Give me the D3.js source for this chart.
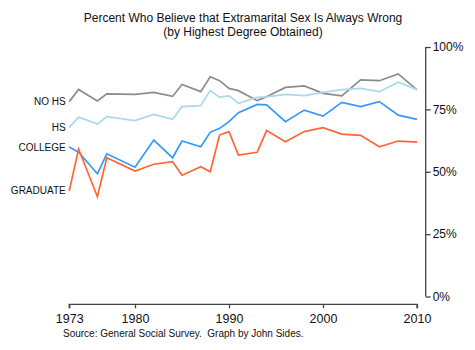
<!DOCTYPE html>
<html><head><meta charset="utf-8">
<script src="https://cdn.jsdelivr.net/npm/d3@7"></script>
<style>body{margin:0;background:#fff}svg{display:block}text{font-family:"Liberation Sans",Arial,sans-serif}</style>
</head><body><svg id="c" width="475" height="350"></svg>
<script>
const years = [1973,1974,1976,1977,1980,1982,1984,1985,1987,1988,1989,1990,1991,1993,1994,1996,1998,2000,2002,2004,2006,2008,2010];
const noHS    = [78.1,83.0,78.4,81.2,81.0,81.8,80.2,85.0,82.1,88.1,86.5,83.4,82.5,78.5,80.1,83.8,84.4,81.4,80.4,86.8,86.5,89.2,82.8];
const hs      = [67.7,71.9,69.1,72.1,70.5,73.0,71.0,76.1,76.5,82.6,79.8,80.5,77.4,79.8,80.0,81.0,80.5,81.8,82.9,83.4,82.1,85.9,82.9];
const college = [59.9,57.8,49.2,57.2,51.8,62.7,55.6,62.3,60.0,65.8,67.4,70.1,73.7,77.0,76.8,70.1,74.7,72.3,77.8,76.1,78.1,72.7,71.0];
const graduate= [42.3,59.1,40.0,55.6,50.3,53.0,54.0,48.6,52.0,50.0,64.7,66.1,56.7,57.8,66.5,62.0,66.1,67.7,65.1,64.6,60.0,62.3,61.9];
const seriesNames = ["NO HS","HS","COLLEGE","GRADUATE"];
const seriesColors = ["#8c8c8c","#a9d9ea","#3399ff","#ff6633"];
const xTicks = [1973,1980,1990,2000,2010];
const yTicks = [0,25,50,75,100];
const titleLines = ["Percent Who Believe that Extramarital Sex Is Always Wrong","(by Highest Degree Obtained)"];
const sourceText = "Source: General Social Survey.  Graph by John Sides.";

const svg = d3.select("#c");
const x = d3.scaleLinear().domain([1973,2010]).range([69.2,417]);
const y = d3.scaleLinear().domain([0,100]).range([296.5,47]);
const allSeries = [noHS,hs,college,graduate];

// title
svg.selectAll("text.title").data(titleLines).join("text")
  .attr("class","title").attr("x",243).attr("y",(d,i)=>22+i*13.5)
  .attr("text-anchor","middle").attr("font-size",12).attr("fill","#111").text(d=>d);

// x axis
const xg = svg.append("g").attr("transform","translate(0,304.3)")
  .call(d3.axisBottom(x).tickValues(xTicks).tickFormat(d3.format("d")).tickSize(4).tickPadding(4));
xg.select(".domain").attr("stroke","#444").attr("stroke-width",1.3).attr("d","M69.2,4V0H417V4");
xg.selectAll(".tick line").attr("stroke","#444").attr("stroke-width",1.3);
xg.selectAll(".tick text").attr("font-size",12.5).attr("fill","#111").attr("y",18.5).attr("dy",null)
  .style("font-family","'Liberation Sans',Arial,sans-serif");

// y axis
const yg = svg.append("g").attr("transform","translate(425.7,0)")
  .call(d3.axisRight(y).tickValues(yTicks).tickFormat(d=>d+"%").tickSize(5).tickPadding(2));
yg.select(".domain").attr("stroke","#444").attr("stroke-width",1.3).attr("d","M0,"+y(100)+"V"+y(0));
yg.selectAll(".tick line").attr("stroke","#444").attr("stroke-width",1.3);
yg.selectAll(".tick text").attr("font-size",12).attr("fill","#111")
  .style("font-family","'Liberation Sans',Arial,sans-serif");

// lines
const line = d3.line().x((d,i)=>x(years[i])).y(d=>y(d));
svg.selectAll("path.series").data(allSeries).join("path")
  .attr("class","series").attr("fill","none")
  .attr("stroke",(d,i)=>seriesColors[i]).attr("stroke-width",1.7)
  .attr("stroke-linejoin","miter").attr("d",line);

// labels
svg.selectAll("text.lab").data(allSeries).join("text")
  .attr("class","lab").attr("x",x(years[0])-3.5).attr("y",d=>y(d[0]))
  .attr("dy","0.35em").attr("text-anchor","end").attr("font-size",10).attr("fill","#111")
  .text((d,i)=>seriesNames[i]);

// source
svg.append("text").attr("x",63).attr("y",337).attr("font-size",10).attr("fill","#111")
  .style("white-space","pre").text(sourceText);
</script></body></html>
